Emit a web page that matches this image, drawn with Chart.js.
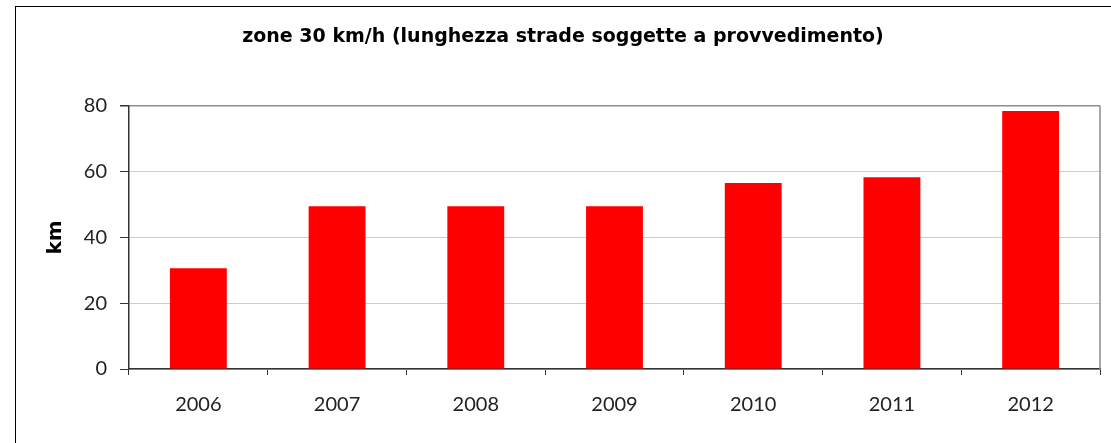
<!DOCTYPE html>
<html>
<head>
<meta charset="utf-8">
<script src="https://cdn.jsdelivr.net/npm/chart.js@4.4.0/dist/chart.umd.min.js"></script>
<style>
  html, body { margin: 0; padding: 0; background: #fff; overflow: hidden; }
  #frame { position: absolute; left: 15px; top: 6px; width: 1200px; height: 600px; border: 1.5px solid #000; }
  #wrap { position: absolute; left: 0; top: 0; width: 1111px; height: 443px; }
</style>
</head>
<body>
<div id="frame"></div>
<div id="wrap"><canvas id="bar_chart" width="1111" height="443"></canvas></div>
<script>
// data
let years = ['2006', '2007', '2008', '2009', '2010', '2011', '2012'];
let kmValues = [30.6, 49.5, 49.5, 49.5, 56.5, 58.3, 78.4];
let yTicks = [0, 20, 40, 60, 80];

let chartTitle = 'zone 30 km/h (lunghezza strade soggette a provvedimento)';
let yTitle = 'km';

// gray frame on the right of the plot
const plotFrame = {
    id: 'plotFrame',
    afterDraw(chart) {
        let ctx = chart.ctx;
        let a = chart.chartArea;
        ctx.save();
        ctx.strokeStyle = '#8c8c8c';
        ctx.lineWidth = 1.5;
        ctx.beginPath();
        ctx.moveTo(a.right, a.top);
        ctx.lineTo(a.right, a.bottom);
        ctx.stroke();
        ctx.restore();
    }
};

let ctx = document.getElementById('bar_chart').getContext('2d');
let km_chart = new Chart(ctx, {
    type: 'bar',
    data: {
        labels: years,
        datasets: [{
            label: yTitle,
            data: kmValues,
            backgroundColor: '#ff0000',
            categoryPercentage: 1,
            barPercentage: 0.41
        }]
    },
    options: {
        responsive: false,
        animation: false,
        layout: { padding: { left: 26, right: 11, top: 0, bottom: 0 } },
        plugins: {
            legend: { display: false },
            tooltip: { enabled: false },
            title: {
                display: true,
                text: chartTitle,
                color: '#000',
                font: { family: 'DejaVu Sans', size: 19, weight: 'bold' },
                padding: { top: 26, bottom: 57 }
            }
        },
        scales: {
            x: {
                grid: {
                    drawOnChartArea: false,
                    drawTicks: true,
                    tickLength: 6,
                    tickColor: '#333'
                },
                border: { color: '#333', width: 1.5 },
                ticks: {
                    color: '#222',
                    font: { family: 'Lato', size: 20 },
                    padding: 18,
                    maxRotation: 0
                },
                afterFit(scale) { scale.height = 74; }
            },
            y: {
                min: 0,
                max: 80,
                afterBuildTicks(scale) { scale.ticks = yTicks.map(v => ({ value: v })); },
                grid: {
                    color: c => (c.tick && c.tick.value === 80) ? '#8c8c8c' : '#cccccc',
                    lineWidth: c => (c.tick && c.tick.value === 80) ? 1.5 : 1,
                    tickLength: 9,
                    tickColor: '#333'
                },
                border: { color: '#333', width: 1.5 },
                ticks: {
                    color: '#222',
                    font: { family: 'Lato', size: 20 },
                    padding: 13
                },
                title: {
                    display: true,
                    text: yTitle,
                    color: '#000',
                    font: { family: 'DejaVu Sans', size: 20, weight: 'bold' },
                    padding: { top: 17.5, bottom: 0 }
                },
                afterFit(scale) { scale.width = 103; }
            }
        }
    },
    plugins: [plotFrame]
});
</script>
</body>
</html>
